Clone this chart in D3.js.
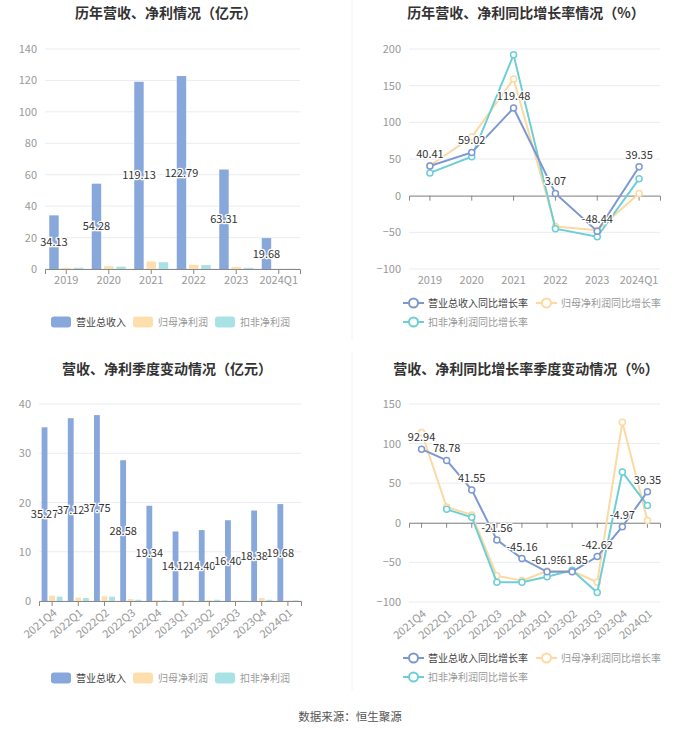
<!DOCTYPE html>
<html><head><meta charset="utf-8">
<script src="https://cdn.jsdelivr.net/npm/d3@7"></script>
<style>
body{margin:0;background:#fff;}
svg text{font-family:"Noto Sans CJK SC","Noto Sans",sans-serif;}
</style></head>
<body><svg id="c" width="700" height="734"></svg>
<script>
// ---- data ----
const years = ["2019","2020","2021","2022","2023","2024Q1"];
const yearRevenue = [34.13,54.28,119.13,122.79,63.31,19.68];
const yearNetProfit = [0.8,1.8,4.8,2.7,1.3,0.1];
const yearDeductProfit = [0.8,1.5,4.3,2.5,0.8,0.1];
const yearRevenueGrowth = [40.41,59.02,119.48,3.07,-48.44,39.35];
const yearNetGrowth = [41,80,159,-42,-47,3];
const yearDeductGrowth = [31,53,192,-45,-56,23];

const quarters = ["2021Q4","2022Q1","2022Q2","2022Q3","2022Q4","2023Q1","2023Q2","2023Q3","2023Q4","2024Q1"];
const qRevenue = [35.27,37.12,37.75,28.58,19.34,14.12,14.40,16.40,18.38,19.68];
const qNetProfit = [1.08,0.68,0.95,0.4,0.15,0.15,0.2,0.05,0.6,0.1];
const qDeductProfit = [0.88,0.6,0.88,0.25,0.13,0.1,0.25,0.03,0.25,0.13];
const qRevenueGrowth = [92.94,78.78,41.55,-21.56,-45.16,-61.95,-61.85,-42.62,-4.97,39.35];
const qNetGrowth = [114,20,10,-67,-73,-61,-61,-75,127,3];
const qDeductGrowth = [null,17,7,-75,-75,-68,-60,-88,64,22];

const yTicksYearBar = [0,20,40,60,80,100,120,140];
const yTicksYearLine = [-100,-50,0,50,100,150,200];
const yTicksQBar = [0,10,20,30,40];
const yTicksQLine = [-100,-50,0,50,100,150];

const barNames = ["营业总收入","归母净利润","扣非净利润"];
const lineNames = ["营业总收入同比增长率","归母净利润同比增长率","扣非净利润同比增长率"];
const barColors = ["#88a8dc","#fddfae","#a9e2e5"];
const lineColors = ["#7d98d1","#fcd9a2","#6dcfd5"];

const FONT = '"Noto Sans CJK SC",sans-serif';
const svg = d3.select("#c");

// dividers
svg.append("line").attr("x1",352).attr("x2",352).attr("y1",0).attr("y2",340).attr("stroke","#f2f2f2");
svg.append("line").attr("x1",352).attr("x2",352).attr("y1",352).attr("y2",690).attr("stroke","#f2f2f2");

function title(txt, cx, y){
  svg.append("text").attr("x",cx).attr("y",y).attr("text-anchor","middle")
    .attr("font-size",14).attr("font-weight","bold").attr("fill","#333").text(txt);
}

function yAxisGrid(g, y, ticks, x0, x1){
  ticks.forEach(t=>{
    g.append("line").attr("x1",x0).attr("x2",x1).attr("y1",y(t)).attr("y2",y(t))
      .attr("stroke","#e9ecf2").attr("stroke-width",1);
  });
  const ax = g.append("g").attr("transform",`translate(${x0},0)`)
    .call(d3.axisLeft(y).tickValues(ticks).tickSize(0).tickPadding(8));
  ax.select(".domain").remove();
  ax.selectAll("text").attr("fill","#999").attr("font-size",11).style("font-family",FONT);
}

// axis line + ticks at zero line, labels at bottom of grid
function xAxis(g, x, yLine, yBottom, rotate){
  const ax = g.append("g").attr("transform",`translate(0,${yLine})`)
    .call(d3.axisBottom(x).tickSize(5).tickFormat(""));
  ax.select(".domain").attr("stroke","#888");
  ax.selectAll(".tick line").attr("stroke","#888");
  const lab = g.append("g").attr("transform",`translate(0,${yBottom})`);
  x.domain().forEach(c=>{
    const cx = x(c)+x.bandwidth()/2;
    const t = lab.append("text").attr("font-size",11).attr("fill","#999").text(c);
    if(rotate){
      t.attr("text-anchor","end").attr("transform",`translate(${cx+3},${10}) rotate(-40)`).attr("dy","0.35em");
    } else {
      t.attr("text-anchor","middle").attr("x",cx).attr("y",15);
    }
  });
}

function barChart(cats, series, ticks, box, rotate){
  const g = svg.append("g");
  const x = d3.scaleBand().domain(cats).range([box.x0,box.x1]);
  const y = d3.scaleLinear().domain([ticks[0],ticks[ticks.length-1]]).range([box.y1,box.y0]);
  yAxisGrid(g,y,ticks,box.x0,box.x1);
  const inner = x.bandwidth()*0.8;
  const w = inner/(3+0.6);
  const gap = w*0.3;
  series.forEach((s,si)=>{
    g.selectAll(null).data(s).enter().append("rect")
      .attr("x",(d,i)=>x(cats[i])+x.bandwidth()*0.1+si*(w+gap))
      .attr("width",w)
      .attr("y",d=>y(d)).attr("height",d=>y(0)-y(d))
      .attr("fill",barColors[si]);
  });
  xAxis(g,x,y(0),box.y1,rotate);
  g.selectAll(null).data(series[0]).enter().append("text")
    .attr("x",(d,i)=>x(cats[i])+x.bandwidth()*0.1+w/2)
    .attr("y",d=>y(d/2)+4)
    .attr("text-anchor","middle").attr("font-size",11).attr("fill","#333")
    .attr("stroke","#fff").attr("stroke-width",2.5).attr("paint-order","stroke")
    .text(d=>d.toFixed(2));
}

function lineChart(cats, series, ticks, box, rotate){
  const g = svg.append("g");
  const x = d3.scaleBand().domain(cats).range([box.x0,box.x1]);
  const y = d3.scaleLinear().domain([ticks[0],ticks[ticks.length-1]]).range([box.y1,box.y0]);
  yAxisGrid(g,y,ticks,box.x0,box.x1);
  xAxis(g,x,y(0),box.y1,rotate);
  const cx = i=>x(cats[i])+x.bandwidth()/2;
  const order=[1,2,0];
  order.forEach(si=>{
    const s = series[si];
    const line = d3.line().defined(d=>d!==null).x((d,i)=>cx(i)).y(d=>y(d));
    g.append("path").datum(s).attr("d",line).attr("fill","none")
      .attr("stroke",lineColors[si]).attr("stroke-width",2);
    g.selectAll(null).data(s.map((d,i)=>({d,i})).filter(o=>o.d!==null)).enter().append("circle")
      .attr("cx",o=>cx(o.i)).attr("cy",o=>y(o.d)).attr("r",3)
      .attr("fill","#fff").attr("stroke",lineColors[si]).attr("stroke-width",1.5);
  });
  g.selectAll(null).data(series[0]).enter().append("text")
    .attr("x",(d,i)=>cx(i)).attr("y",d=>y(d)-8)
    .attr("text-anchor","middle").attr("font-size",11).attr("fill","#333")
    .attr("stroke","#fff").attr("stroke-width",2.5).attr("paint-order","stroke")
    .text(d=>d.toFixed(2));
}

function barLegend(y){
  const xs=[51,133,215];
  barNames.forEach((n,i)=>{
    svg.append("rect").attr("x",xs[i]).attr("y",y-5.5).attr("width",20).attr("height",11).attr("rx",3)
      .attr("fill",barColors[i]);
    svg.append("text").attr("x",xs[i]+25).attr("y",y+3.5).attr("font-size",10)
      .attr("fill",i===0?"#444":"#999").text(n);
  });
}
function lineLegend(y1,y2){
  const pos=[[403,y1],[536,y1],[403,y2]];
  lineNames.forEach((n,i)=>{
    const [px,py]=pos[i];
    svg.append("line").attr("x1",px).attr("x2",px+21).attr("y1",py).attr("y2",py)
      .attr("stroke",lineColors[i]).attr("stroke-width",2);
    svg.append("circle").attr("cx",px+10.5).attr("cy",py).attr("r",4.5)
      .attr("fill","#fff").attr("stroke",lineColors[i]).attr("stroke-width",2);
    svg.append("text").attr("x",px+25).attr("y",py+3.5).attr("font-size",10)
      .attr("fill",i===0?"#444":"#999").text(n);
  });
}

title("历年营收、净利情况（亿元）",166,18);
barChart(years,[yearRevenue,yearNetProfit,yearDeductProfit],yTicksYearBar,{x0:45,x1:300,y0:49,y1:269},false);
barLegend(322);

title("历年营收、净利同比增长率情况（%）",526,18);
lineChart(years,[yearRevenueGrowth,yearNetGrowth,yearDeductGrowth],yTicksYearLine,{x0:409,x1:660,y0:49,y1:269},false);
lineLegend(303,322);

title("营收、净利季度变动情况（亿元）",167,374);
barChart(quarters,[qRevenue,qNetProfit,qDeductProfit],yTicksQBar,{x0:39,x1:301,y0:404,y1:601},true);
barLegend(678);

title("营收、净利同比增长率季度变动情况（%）",526,374);
lineChart(quarters,[qRevenueGrowth,qNetGrowth,qDeductGrowth],yTicksQLine,{x0:409,x1:660,y0:404,y1:602},true);
lineLegend(658,677);

svg.append("text").attr("x",350).attr("y",721).attr("text-anchor","middle")
  .attr("font-size",11.5).attr("fill","#555").text("数据来源：恒生聚源");
</script></body></html>
